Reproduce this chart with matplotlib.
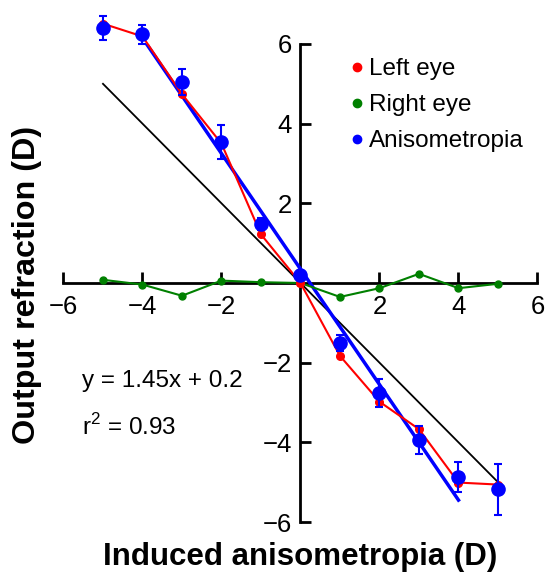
import numpy as np
import matplotlib
matplotlib.use("Agg")
import matplotlib.pyplot as plt
from matplotlib.lines import Line2D

plt.rcParams['font.family'] = ['Liberation Sans', 'DejaVu Sans']
plt.rcParams['mathtext.fontset'] = 'custom'
plt.rcParams['mathtext.rm'] = 'Liberation Sans'

# induced anisometropia (D)
induced = [-5, -4, -3, -2, -1, 0, 1, 2, 3, 4, 5]
left_eye = [6.51, 6.19, 4.74, 3.5, 1.22, 0.0, -1.83, -2.98, -3.67, -5.01, -5.06]
right_eye = [0.08, -0.04, -0.32, 0.06, 0.02, 0.0, -0.35, -0.13, 0.23, -0.13, -0.02]
aniso = [6.40, 6.24, 5.04, 3.54, 1.48, 0.20, -1.50, -2.77, -3.94, -4.87, -5.18]
aniso_err = [0.30, 0.24, 0.32, 0.43, 0.15, 0.10, 0.20, 0.35, 0.35, 0.38, 0.64]

# regression line and identity line
fit_slope, fit_icpt = -1.45, 0.35
fit_x = [-4, 4]
ident_x = [-5, 5]

fig = plt.figure(figsize=(5.45, 5.72), dpi=100)
ax = fig.add_axes([0.1165, 0.0874, 0.8697, 0.8357])

ax.plot(ident_x, [-v for v in ident_x], color='black', lw=1.3, zorder=2)
ax.plot(fit_x, [fit_slope * v + fit_icpt for v in fit_x], color='#0000ff', lw=2.5, zorder=3)
ax.plot(induced, right_eye, '-o', color='#008000', lw=1.5, ms=5, zorder=4, clip_on=False)
ax.plot(induced, left_eye, '-o', color='#ff0000', lw=1.5, ms=5.5, zorder=5, clip_on=False)
ax.errorbar(induced, aniso, yerr=aniso_err, fmt='o', color='#0000ff', ms=9.5,
            elinewidth=1.5, capsize=3, capthick=1.5, zorder=6, clip_on=False)

ax.set_xlim(-6, 6)
ax.set_ylim(-6, 6)
ax.spines['left'].set_position(('data', 0))
ax.spines['bottom'].set_position(('data', 0))
ax.spines['right'].set_visible(False)
ax.spines['top'].set_visible(False)
for s in ['left', 'bottom']:
    ax.spines[s].set_linewidth(2)

ticks = [-6, -4, -2, 2, 4, 6]
ax.set_xticks([-6, -4, -2, 0, 2, 4, 6])
ax.set_xticklabels(['\u22126', '\u22124', '\u22122', '', '2', '4', '6'])
ax.set_yticks(ticks)
ax.set_yticklabels(['\u22126', '\u22124', '\u22122', '2', '4', '6'])
ax.tick_params(direction='in', length=8, width=2, labelsize=18.5)
ax.tick_params(axis='x', pad=9)
ax.tick_params(axis='y', pad=6)

leg_handles = [
    Line2D([], [], marker='o', ls='none', color='#ff0000', ms=6),
    Line2D([], [], marker='o', ls='none', color='#008000', ms=6),
    Line2D([], [], marker='o', ls='none', color='#0000ff', ms=6),
]
fig.legend(leg_handles, ['Left eye', 'Right eye', 'Anisometropia'],
           loc='upper left', bbox_to_anchor=(350 / 545, 1 - 58 / 572),
           frameon=False, fontsize=17.5, handlelength=0.6, handletextpad=0.2,
           labelspacing=0.58, borderaxespad=0, borderpad=0)

ax.text(-5.53, -2.61, 'y = 1.45x + 0.2', fontsize=17.5, va='baseline')
ax.text(-5.53, -3.82, r'r$^\mathrm{2}$ = 0.93', fontsize=17.5, va='baseline')

fig.text(27 / 545, 1 - 285 / 572, 'Output refraction (D)', rotation=90,
         fontsize=23.3, fontweight='bold', ha='center', va='center')
fig.text(300 / 545, 1 - 557 / 572, 'Induced anisometropia (D)',
         fontsize=22.5, fontweight='bold', ha='center', va='center')

fig.savefig('out.png', dpi=100)
